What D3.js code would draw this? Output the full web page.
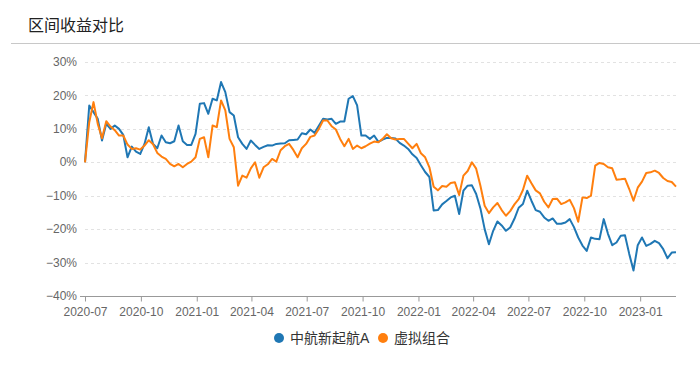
<!DOCTYPE html>
<html><head><meta charset="utf-8">
<script src="https://cdn.jsdelivr.net/npm/d3@7"></script>
<style>
html,body{margin:0;padding:0;background:#fff;}
svg{display:block;font-family:"Liberation Sans","Noto Sans CJK SC",Arial,sans-serif;}
</style></head>
<body><svg id="c" width="700" height="367"></svg>
<script>
const title = "区间收益对比";
const seriesNames = ["中航新起航A", "虚拟组合"];
const seriesColors = ["#1f77b4", "#ff7f0e"];
const startDate = "2020-07-01";
const stepDays = 7;
const fundReturns = [0,17,15,13,6.5,11.5,10,11,10,8.2,1.5,4.7,3.2,2.5,5.5,10.5,5.5,4.2,8,6,
5.7,6.3,11,6.3,5.2,5.2,8.5,17.5,17.7,14.5,19,18.5,24,21,15,14,7.5,5.5,4,6.5,
5.2,4,4.6,5.1,5,5.5,5.6,5.7,6.6,6.7,6.8,8.7,8.4,9.8,8.8,10.9,13,12.8,13,11.5,
12.2,12.2,19,19.8,17,8,8,7,8,6.1,6.8,7.3,7.3,7.1,5.8,5,4,2.4,1.3,-0.9,
-2.9,-4.4,-14.4,-14.3,-12.6,-11.6,-10.5,-10,-15.5,-8.5,-7,-6.9,-9.5,-13.8,-20,-24.5,-20.5,-17.7,-18.9,-20.5,
-19.5,-16.9,-13.6,-12.5,-8.5,-11.5,-14.3,-14.8,-16.5,-17.5,-16.8,-18.4,-18.4,-18,-17,-19.4,-22.5,-24.9,-26.5,-22.5,
-22.9,-23,-17,-21.4,-24.8,-24,-22,-21.8,-27.4,-32.4,-24.8,-22.5,-25,-24.4,-23.5,-24.2,-26,-28.7,-27,-26.9];
const benchReturns = [0,12,18,11.5,7.2,12.3,10.7,9.6,8,8,5.3,4,4.2,3.8,5,6.6,5.4,2.8,1.7,1,
-0.5,-1.2,-0.5,-1.5,-0.5,0.2,1.5,7,7.5,1.5,11,10.5,18.5,15.5,7,4.5,-7,-4,-4.6,-1.8,
0,-4.6,-1.5,-0.6,1,0.2,3.6,4.8,5.5,3.7,1.5,4.2,5.5,7.6,8,10,12.5,12.5,10.8,9.8,
7,4.8,7,4,5,4.2,4.8,5.6,6.2,6,7,8.4,7.2,6.8,7,7,5.6,4.2,5.5,2.7,
1.5,-1.5,-7.3,-8.4,-7.1,-7.3,-6.2,-6,-9.8,-4,-2.6,0,-1.9,-7,-13,-15.2,-13.5,-12.2,-14.3,-16,
-14.6,-12.6,-11,-8.3,-4,-6.3,-8.4,-9.3,-11.8,-13.5,-11,-10.9,-12.5,-12,-11.2,-13.7,-17.8,-10.5,-10.7,-10,
-1,-0.2,-0.5,-1.5,-1.8,-5.2,-5.1,-4.9,-8,-11.5,-7.6,-5.8,-3.2,-3,-2.5,-3.2,-4.7,-5.6,-5.9,-7.3];
const yTicks = [-40,-30,-20,-10,0,10,20,30];
const xTickLabels = ["2020-07","2020-10","2021-01","2021-04","2021-07","2021-10","2022-01","2022-04","2022-07","2022-10","2023-01"];

const parse = d3.timeParse("%Y-%m-%d");
const parseM = d3.timeParse("%Y-%m");
const d0 = parse(startDate);
const dates = fundReturns.map((_, i) => d3.timeDay.offset(d0, i * stepDays));

const svg = d3.select("#c");
const W = 700, H = 367;
const m = {left: 85, right: 24, top: 62, bottom: 71};

// title
svg.append("text").attr("x", 28).attr("y", 31).attr("font-size", 16)
  .attr("fill", "#222").text(title);
svg.append("line").attr("x1", 11).attr("x2", W).attr("y1", 43.5).attr("y2", 43.5)
  .attr("stroke", "#c8c8c8").attr("stroke-width", 1);

const x = d3.scaleTime().domain([dates[0], dates[dates.length - 1]]).range([m.left, W - m.right]);
const y = d3.scaleLinear().domain([-40, 30]).range([H - m.bottom, m.top]);

// gridlines
svg.append("g").selectAll("line").data(yTicks.filter(t => t !== -40)).join("line")
  .attr("x1", m.left).attr("x2", W - m.right)
  .attr("y1", d => Math.round(y(d)) + 0.5).attr("y2", d => Math.round(y(d)) + 0.5)
  .attr("stroke", "#e2e2e2").attr("stroke-dasharray", "3,3");

// y labels
const fmtPct = d => d3.format("d")(d) + "%";
svg.append("g").selectAll("text").data(yTicks).join("text")
  .attr("x", 77).attr("y", d => y(d)).attr("dy", "0.35em")
  .attr("text-anchor", "end").attr("font-size", 12).attr("fill", "#666")
  .text(fmtPct);

// x axis
const xAxis = d3.axisBottom(x)
  .tickValues(xTickLabels.map(parseM))
  .tickFormat((d, i) => xTickLabels[i])
  .tickSize(5).tickSizeOuter(0);
const gx = svg.append("g").attr("transform", `translate(0,${Math.round(y(-40)) + 0.5})`).call(xAxis);
gx.select(".domain").attr("stroke", "#999").attr("d", `M${m.left - 5},0H${W - m.right}`);
gx.selectAll(".tick line").attr("stroke", "#999");
gx.selectAll(".tick text").attr("font-size", 12).attr("fill", "#666")
  .attr("font-family", "Liberation Sans, Arial, sans-serif").attr("dy", "0.95em");

// lines
const series = [fundReturns, benchReturns];
const line = d3.line().x((d, i) => x(dates[i])).y(d => y(d)).curve(d3.curveLinear);
series.forEach((s, k) => {
  svg.append("path").datum(s).attr("d", line).attr("fill", "none")
    .attr("stroke", seriesColors[k]).attr("stroke-width", 2).attr("stroke-linejoin", "round");
});

// legend
const lg = svg.append("g");
const legendX = [279, 383];
seriesNames.forEach((n, k) => {
  lg.append("circle").attr("cx", legendX[k]).attr("cy", 338).attr("r", 5).attr("fill", seriesColors[k]);
  lg.append("text").attr("x", legendX[k] + 11).attr("y", 338).attr("dy", "0.36em")
    .attr("font-size", 14).attr("fill", "#333").text(n);
});
</script></body></html>
